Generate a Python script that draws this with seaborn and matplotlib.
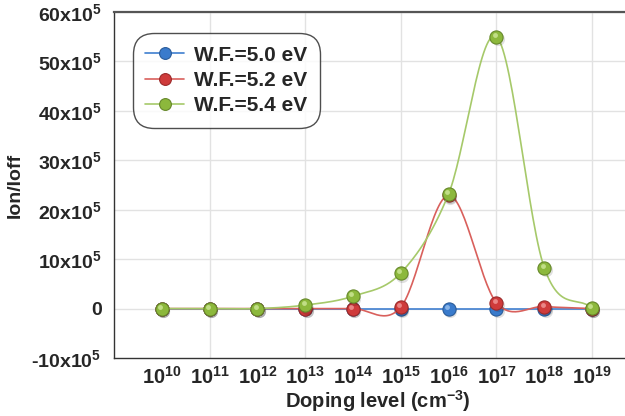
import numpy as np
import pandas as pd
import matplotlib
matplotlib.use("Agg")
import matplotlib.pyplot as plt
import matplotlib.transforms as mtransforms
from matplotlib import lines as mlines
import seaborn as sns

# doping level exponents (10^n cm^-3)
doping_exp = [10, 11, 12, 13, 14, 15, 16, 17, 18, 19]
# Ion/Ioff in units of 10^5
wf50 = [0, 0, 0, 0, 0, 0, 0, 0, 0, 0]
wf52 = [0, 0, 0, 0, 0, 0.3, 22.9, 1.2, 0.4, 0]
wf54 = [0, 0, 0, 0.7, 2.5, 7.2, 23.2, 55.0, 8.3, 0.1]
series_names = ["W.F.=5.0 eV", "W.F.=5.2 eV", "W.F.=5.4 eV"]
y_ticks = [-10, 0, 10, 20, 30, 40, 50, 60]

sns.set_style("white")
plt.rcParams["font.family"] = ["Liberation Sans", "DejaVu Sans"]
plt.rcParams["mathtext.fontset"] = "custom"
plt.rcParams["mathtext.rm"] = "Liberation Sans"
plt.rcParams["mathtext.bf"] = "Liberation Sans:bold"

line_cols = ["#3f7fd0", "#d9605c", "#a6c96a"]
mark_cols = ["#3a7bcc", "#cf3b3b", "#8cb83c"]
edge_cols = ["#2a5c9a", "#9c2a2a", "#66882a"]
high_cols = ["#9cc3f0", "#f19a9a", "#cfe89a"]


def catmull(xs, ys, n=30):
    # Excel-like smoothed line (uniform Catmull-Rom)
    ys = np.asarray(ys, float)
    p = np.concatenate([[2 * ys[0] - ys[1]], ys, [2 * ys[-1] - ys[-2]]])
    xo, yo = [], []
    t = np.linspace(0, 1, n, endpoint=False)
    h00 = 2 * t**3 - 3 * t**2 + 1
    h10 = t**3 - 2 * t**2 + t
    h01 = -2 * t**3 + 3 * t**2
    h11 = t**3 - t**2
    for k in range(len(ys) - 1):
        m0 = (p[k + 2] - p[k]) / 2
        m1 = (p[k + 3] - p[k + 1]) / 2
        yo.extend(h00 * ys[k] + h10 * m0 + h01 * ys[k + 1] + h11 * m1)
        xo.extend(xs[k] + t * (xs[k + 1] - xs[k]))
    xo.append(xs[-1])
    yo.append(ys[-1])
    return np.array(xo), np.array(yo)


def ylab(v):
    if v == 0:
        return "0"
    s = "-" if v < 0 else ""
    return s + r"$\mathbf{%dx10^{5}}$" % abs(v)


fig = plt.figure(figsize=(6.25, 4.16), dpi=100)
ax = fig.add_axes([114 / 625, 1 - 358 / 416, 511 / 625, 346 / 416])

shadow = mtransforms.offset_copy(ax.transData, fig=fig, x=1.0, y=-2.0, units="points")
hilite = mtransforms.offset_copy(ax.transData, fig=fig, x=-1.2, y=1.3, units="points")

for i, vals in enumerate([wf50, wf52, wf54]):
    sx, sy = catmull(doping_exp, vals)
    smooth_df = pd.DataFrame({"x": sx, "y": sy})
    sns.lineplot(data=smooth_df, x="x", y="y", ax=ax, color=line_cols[i], lw=1.2,
                 sort=False, legend=False, zorder=3 + i)
    ax.plot(doping_exp, vals, "o", ms=9.5, color="#000000", alpha=0.12, mec="none",
            transform=shadow, zorder=3 + i)
    sns.scatterplot(x=doping_exp, y=vals, ax=ax, s=90, color=mark_cols[i],
                    edgecolor=edge_cols[i], linewidth=0.8, zorder=3.1 + i)
    ax.plot(doping_exp, vals, "o", ms=3.5, color=high_cols[i], alpha=0.8, mec="none",
            transform=hilite, zorder=3.2 + i)

ax.set_xlim(9.0, 19.69)
ax.set_ylim(-10, 60)
ax.set_xticks(doping_exp)
ax.set_xticklabels([r"$\mathbf{10^{%d}}$" % e for e in doping_exp], fontsize=14.5)
ax.set_yticks(y_ticks)
ax.set_yticklabels([ylab(v) for v in y_ticks], fontsize=14, fontweight="bold")
ax.tick_params(axis="both", direction="out", length=5, width=1, color="#888888", pad=4)
ax.tick_params(axis="x", pad=1)

for g in [11, 13, 15, 17, 19]:
    ax.axvline(g, color="#e2e2e2", lw=1, zorder=0)
for v in y_ticks[1:]:
    ax.axhline(v, color="#e2e2e2", lw=1, zorder=0)

for side in ["left", "bottom", "top"]:
    ax.spines[side].set_color("#333333")
    ax.spines[side].set_linewidth(1.0)
ax.spines["top"].set_linewidth(1.6)
ax.spines["top"].set_color("#555555")
ax.spines["right"].set_visible(False)

ax.set_xlabel(r"Doping level (cm$^{\mathbf{-3}}$)", fontsize=14.5, fontweight="bold")
ax.xaxis.set_label_coords((378 - 114) / 511, -(408 - 358) / 346)
ax.xaxis.label.set_va("baseline")
ax.set_ylabel("Ion/Ioff", fontsize=14, fontweight="bold")
ax.yaxis.set_label_coords(-0.176, 0.5)

handles = [mlines.Line2D([], [], color=line_cols[i], lw=1.2, marker="o", ms=8.5,
                         mfc=mark_cols[i], mec=edge_cols[i], mew=0.8)
           for i in range(3)]
leg = ax.legend(handles, series_names, loc="upper left", bbox_to_anchor=(0.037, 0.939),
                borderaxespad=0, prop={"weight": "bold", "size": 15}, frameon=True,
                handlelength=1.85, handletextpad=0.5, labelspacing=0.3, borderpad=0.6)
frame = leg.get_frame()
frame.set_edgecolor("#222222")
frame.set_linewidth(1.0)
frame.set_boxstyle("round,pad=0,rounding_size=1.0")
leg.set_zorder(10)

fig.savefig("out.png", dpi=100)
